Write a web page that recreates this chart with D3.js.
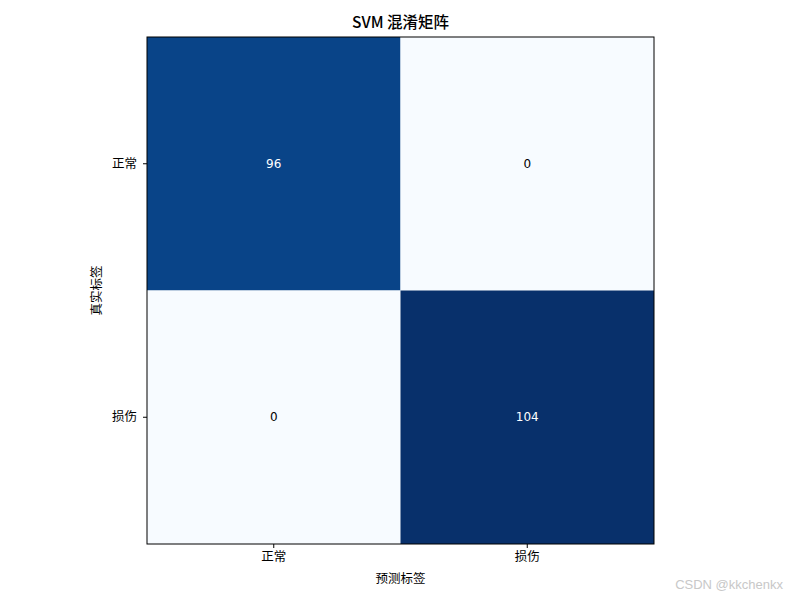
<!DOCTYPE html>
<html>
<head>
<meta charset="utf-8">
<script src="https://cdn.jsdelivr.net/npm/d3@7"></script>
<style>
  body { margin: 0; background: #fff; }
  text { font-family: "Noto Sans CJK SC", "DejaVu Sans", sans-serif; }
</style>
</head>
<body>
<script>
const WIDTH = 800
const HEIGHT = 600

// rows = true label, cols = predicted label
const LABELS = ['正常', '损伤']
const MATRIX = [
  [96, 0],
  [0, 104]
]
const TITLE = 'SVM 混淆矩阵'
const X_LABEL = '预测标签'
const Y_LABEL = '真实标签'

const PLOT_L = 147, PLOT_R = 654, PLOT_T = 37, PLOT_B = 544

const svg = d3.select('body').append('svg')
  .attr('width', WIDTH)
  .attr('height', HEIGHT)

const x = d3.scaleBand().domain(LABELS).range([PLOT_L, PLOT_R])
const y = d3.scaleBand().domain(LABELS).range([PLOT_T, PLOT_B])
const maxVal = d3.max(MATRIX.flat())
const color = d3.scaleSequential(d3.interpolateBlues).domain([0, maxVal])

const cells = []
MATRIX.forEach((row, i) => row.forEach((v, j) => {
  cells.push({ r: LABELS[i], c: LABELS[j], v })
}))

svg.selectAll('rect.cell')
  .data(cells)
  .enter()
  .append('rect')
  .attr('class', 'cell')
  .attr('x', d => x(d.c))
  .attr('y', d => y(d.r))
  .attr('width', x.bandwidth())
  .attr('height', y.bandwidth())
  .attr('fill', d => color(d.v))

svg.selectAll('text.val')
  .data(cells)
  .enter()
  .append('text')
  .attr('class', 'val')
  .attr('x', d => x(d.c) + x.bandwidth() / 2)
  .attr('y', d => y(d.r) + y.bandwidth() / 2)
  .attr('text-anchor', 'middle')
  .attr('dominant-baseline', 'central')
  .attr('font-size', 12)
  .style('font-family', '"DejaVu Sans", sans-serif')
  .attr('fill', d => d.v > maxVal / 2 ? '#fff' : '#000')
  .text(d => d.v)

// frame
svg.append('rect')
  .attr('x', PLOT_L).attr('y', PLOT_T)
  .attr('width', PLOT_R - PLOT_L).attr('height', PLOT_B - PLOT_T)
  .attr('fill', 'none').attr('stroke', '#000').attr('stroke-width', 1)

const xAxis = svg.append('g')
  .attr('transform', `translate(0,${PLOT_B})`)
  .call(d3.axisBottom(x).tickSize(4).tickPadding(4))
const yAxis = svg.append('g')
  .attr('transform', `translate(${PLOT_L},0)`)
  .call(d3.axisLeft(y).tickSize(4).tickPadding(6))

;[xAxis, yAxis].forEach(g => {
  g.select('.domain').remove()
  g.selectAll('text').attr('font-size', 12.5).attr('fill', '#000')
    .style('font-family', '"Noto Sans CJK SC", sans-serif')
  g.selectAll('line').attr('stroke', '#000')
})

svg.append('text')
  .attr('x', (PLOT_L + PLOT_R) / 2)
  .attr('y', 28)
  .attr('text-anchor', 'middle')
  .attr('font-size', 15.5)
  .attr('font-weight', 500)
  .text(TITLE)

svg.append('text')
  .attr('x', (PLOT_L + PLOT_R) / 2)
  .attr('y', 583)
  .attr('text-anchor', 'middle')
  .attr('font-size', 12.5)
  .text(X_LABEL)

svg.append('text')
  .attr('transform', `translate(101,${(PLOT_T + PLOT_B) / 2}) rotate(-90)`)
  .attr('text-anchor', 'middle')
  .attr('font-size', 12.5)
  .text(Y_LABEL)

svg.append('text')
  .attr('x', 783)
  .attr('y', 589)
  .attr('text-anchor', 'end')
  .attr('font-size', 13)
  .attr('fill', '#c8c8c8')
  .style('font-family', '"Liberation Sans", sans-serif')
  .text('CSDN @kkchenkx')
</script>
</body>
</html>
